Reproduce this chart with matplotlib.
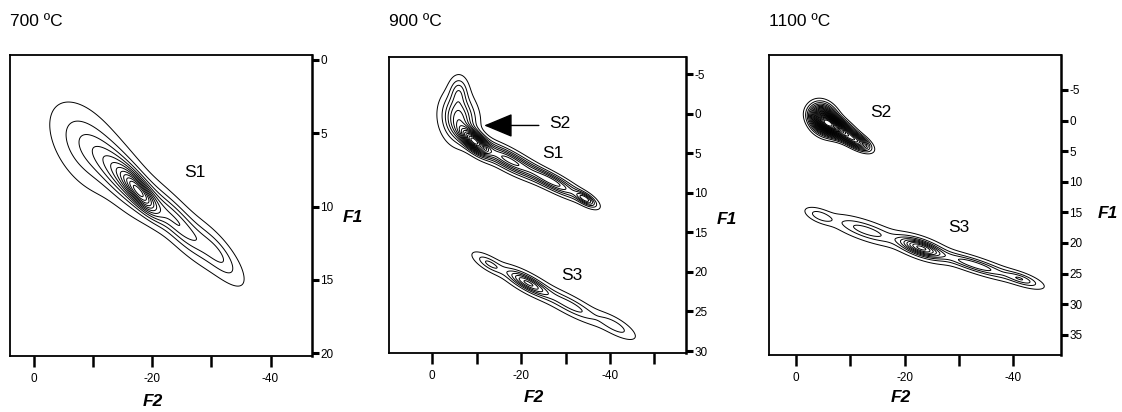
import numpy as np
import matplotlib.pyplot as plt

plt.rcParams['font.family'] = ['Liberation Sans', 'DejaVu Sans']
plt.rcParams['axes.unicode_minus'] = False

# Each cluster is a sum of sheared gaussian components:
# centre F2, centre F1, slope dF1/dF2, spread along F2, spread in F1, weight
S1_700_F2 = [-9.0, -15.0, -18.0, -24.0, -31.0]
S1_700_F1 = [6.0, 8.0, 9.1, 11.0, 13.2]
S1_700_SLOPE = [-0.25, -0.35, -0.40, -0.38, -0.38]
S1_700_SA = [3.5, 3.0, 2.0, 3.5, 2.5]
S1_700_SP = [1.5, 1.0, 0.6, 0.8, 0.75]
S1_700_W = [0.3, 0.6, 1.0, 0.55, 0.3]

S12_900_F2 = [-6.0, -6.0, -9.5, -17.0, -27.0, -34.5]
S12_900_F1 = [-2.8, 0.6, 3.5, 5.8, 8.6, 10.8]
S12_900_SLOPE = [0.0, -0.1, -0.35, -0.28, -0.28, -0.28]
S12_900_SA = [1.3, 2.3, 2.0, 4.0, 4.0, 1.5]
S12_900_SP = [1.2, 1.8, 0.8, 0.8, 0.65, 0.45]
S12_900_W = [0.2, 0.45, 1.0, 0.5, 0.45, 0.4]

S3_900_F2 = [-13.0, -21.5, -31.0, -41.0]
S3_900_F1 = [19.0, 21.4, 24.2, 26.8]
S3_900_SLOPE = [-0.28, -0.28, -0.28, -0.28]
S3_900_SA = [2.0, 3.0, 4.0, 2.5]
S3_900_SP = [0.5, 0.6, 0.65, 0.6]
S3_900_W = [0.4, 1.0, 0.45, 0.3]

S2_1100_F2 = [-5.0, -7.0, -11.0]
S2_1100_F1 = [-0.3, 1.0, 3.3]
S2_1100_SLOPE = [-0.2, -0.35, -0.4]
S2_1100_SA = [1.6, 2.0, 1.7]
S2_1100_SP = [1.5, 1.0, 0.8]
S2_1100_W = [0.8, 1.0, 0.6]

S3_1100_F2 = [-4.5, -13.0, -23.0, -33.0, -41.5]
S3_1100_F1 = [15.6, 18.0, 20.8, 23.6, 25.9]
S3_1100_SLOPE = [-0.28, -0.28, -0.28, -0.28, -0.28]
S3_1100_SA = [1.5, 3.5, 2.5, 4.0, 2.0]
S3_1100_SP = [0.6, 0.85, 0.8, 0.65, 0.55]
S3_1100_W = [0.25, 0.35, 1.0, 0.5, 0.35]

TITLES = ['700 ºC', '900 ºC', '1100 ºC']
XLIMS = [(4.0, -47.0), (9.7, -57.1), (5.0, -48.8)]
YLIMS = [(20.2, -0.34), (30.25, -7.15), (38.3, -10.7)]
XTICKS = [[0, -10, -20, -30, -40], [0, -10, -20, -30, -40, -50], [0, -10, -20, -30, -40]]
YTICKS = [[0, 5, 10, 15, 20], [-5, 0, 5, 10, 15, 20, 25, 30], [-5, 0, 5, 10, 15, 20, 25, 30, 35]]

# axes boxes in pixels: left, right, top, bottom
BOXES = [(10, 312, 55, 356), (389, 686, 57, 353), (769, 1061, 55, 355)]
W, H = 1122, 412


def density(X, Y, cx, cy, slope, sa, sp, w):
    Z = np.zeros_like(X)
    for x0, y0, m, a, p, k in zip(cx, cy, slope, sa, sp, w):
        dx = X - x0
        dy = Y - y0 - m * dx
        Z += k * np.exp(-0.5 * (dx / a) ** 2 - 0.5 * (dy / p) ** 2)
    return Z


def draw_cluster(ax, xlim, ylim, comps, nlev, lo=0.05):
    xs = np.linspace(min(xlim), max(xlim), 500)
    ys = np.linspace(min(ylim), max(ylim), 500)
    X, Y = np.meshgrid(xs, ys)
    Z = density(X, Y, *comps)
    levels = Z.max() * np.linspace(lo, 0.95, nlev)
    ax.contour(X, Y, Z, levels=levels, colors='black', linewidths=0.7)


fig = plt.figure(figsize=(W / 100, H / 100), dpi=100)
axes = []
for i, (l, r, t, b) in enumerate(BOXES):
    ax = fig.add_axes([l / W, 1 - b / H, (r - l) / W, (b - t) / H])
    ax.set_xlim(*XLIMS[i])
    ax.set_ylim(*YLIMS[i])
    ax.set_xticks(XTICKS[i])
    ax.set_xticklabels([str(v) if v % 20 == 0 else '' for v in XTICKS[i]])
    ax.set_yticks(YTICKS[i])
    ax.yaxis.tick_right()
    ax.tick_params(axis='x', direction='out', length=8, width=1.8, labelsize=8.5, pad=4)
    ax.tick_params(axis='y', direction='out', length=5, width=2.2, labelsize=8.5, pad=1)
    for s in ax.spines.values():
        s.set_linewidth(1.3)
    ax.spines['right'].set_linewidth(1.8)
    fig.text(l / W, 1 - 22 / H, TITLES[i], fontsize=12.5, va='center', ha='left')
    axes.append(ax)

ax1, ax2, ax3 = axes

draw_cluster(ax1, XLIMS[0], YLIMS[0],
             (S1_700_F2, S1_700_F1, S1_700_SLOPE, S1_700_SA, S1_700_SP, S1_700_W), 12, 0.04)
ax1.text(-25.5, 7.7, 'S1', fontsize=12.5, va='center', ha='left')

draw_cluster(ax2, XLIMS[1], YLIMS[1],
             (S12_900_F2, S12_900_F1, S12_900_SLOPE, S12_900_SA, S12_900_SP, S12_900_W), 15, 0.04)
draw_cluster(ax2, XLIMS[1], YLIMS[1],
             (S3_900_F2, S3_900_F1, S3_900_SLOPE, S3_900_SA, S3_900_SP, S3_900_W), 7, 0.05)
ax2.annotate('', xy=(-11.7, 1.5), xytext=(-24.0, 1.5),
             arrowprops=dict(arrowstyle='-|>,head_length=1.2,head_width=0.5',
                             color='black', lw=1.0, mutation_scale=15, shrinkA=0, shrinkB=0))
ax2.text(-26.3, 1.3, 'S2', fontsize=12.5, va='center', ha='left')
ax2.text(-24.7, 5.1, 'S1', fontsize=12.5, va='center', ha='left')
ax2.text(-29.0, 20.5, 'S3', fontsize=12.5, va='center', ha='left')

draw_cluster(ax3, XLIMS[2], YLIMS[2],
             (S2_1100_F2, S2_1100_F1, S2_1100_SLOPE, S2_1100_SA, S2_1100_SP, S2_1100_W), 24, 0.05)
draw_cluster(ax3, XLIMS[2], YLIMS[2],
             (S3_1100_F2, S3_1100_F1, S3_1100_SLOPE, S3_1100_SA, S3_1100_SP, S3_1100_W), 9, 0.04)
ax3.text(-13.7, -1.3, 'S2', fontsize=12.5, va='center', ha='left')
ax3.text(-28.0, 17.5, 'S3', fontsize=12.5, va='center', ha='left')

# bold italic axis names placed beside each panel
F2_POS = [(153, 402), (534, 398), (901, 398)]
F1_POS = [(353, 218), (727, 220), (1108, 213)]
for (x, y) in F2_POS:
    fig.text(x / W, 1 - y / H, 'F2', fontsize=12.5, fontweight='bold', fontstyle='italic',
             ha='center', va='center')
for (x, y) in F1_POS:
    fig.text(x / W, 1 - y / H, 'F1', fontsize=12.5, fontweight='bold', fontstyle='italic',
             ha='center', va='center')

fig.savefig('out.png', dpi=100)
